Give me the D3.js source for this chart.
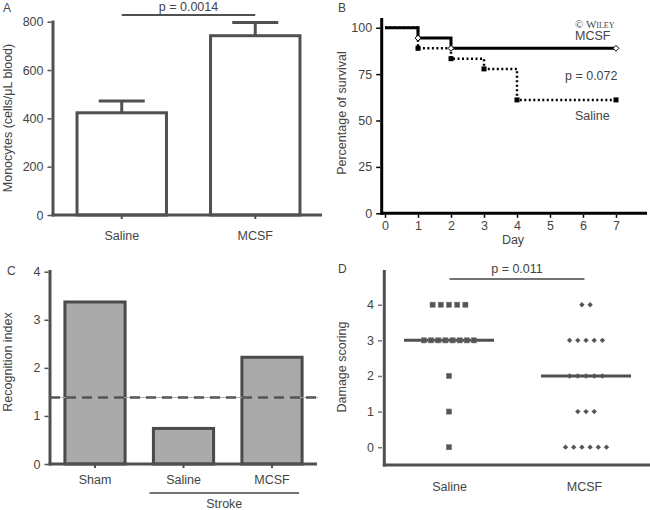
<!DOCTYPE html>
<html><head><meta charset="utf-8">
<script src="https://cdn.jsdelivr.net/npm/d3@7"></script>
<style>
body{margin:0;background:#fff;}
text{font-family:"Liberation Sans",Arial,sans-serif;font-size:12.5px;fill:#444;}
</style></head>
<body><svg id="c" width="650" height="510"></svg>
<script>
// ---------- DATA ----------
// Panel A
const aCategories = ["Saline", "MCSF"];
const aMeans = [423, 742];
const aErrors = [49, 55];
const aTicks = [0, 200, 400, 600, 800];
const aPText = "p = 0.0014";
// Panel B (survival, Kaplan-Meier)
const bDaysMCSF = [0, 1, 2, 7];
const bSurvMCSF = [100, 94.4, 88.9, 88.9];
const bMarkDaysMCSF = [1, 2, 7];
const bDaysSaline = [0, 1, 2, 3, 4, 7];
const bSurvSaline = [100, 88.9, 83.3, 77.8, 61.1, 61.1];
const bMarkDaysSaline = [1, 2, 3, 4, 7];
const bXTicks = [0, 1, 2, 3, 4, 5, 6, 7];
const bYTicks = [0, 25, 50, 75, 100];
// Panel C
const cCategories = ["Sham", "Saline", "MCSF"];
const cValues = [3.37, 0.74, 2.22];
const cThreshold = 1.385;
const cTicks = [0, 1, 2, 3, 4];
// Panel D
const dCategories = ["Saline", "MCSF"];
const dSalineScores = [4,4,4,4,4, 3,3,3,3,3,3,3,3, 2, 1, 0];
const dMCSFScores = [4,4, 3,3,3,3,3, 2,2,2,2,2, 1,1,1, 0,0,0,0,0,0];
const dMedians = [3, 2];
const dTicks = [0, 1, 2, 3, 4];
const dPText = "p = 0.011";

// ---------- DRAW ----------
const svg = d3.select("#c");
const GREY = "#505050";

function hline(g, x1, x2, y, col, w) {
  g.append("line").attr("x1", x1).attr("x2", x2).attr("y1", y).attr("y2", y)
    .attr("stroke", col).attr("stroke-width", w);
}
function vline(g, x, y1, y2, col, w) {
  g.append("line").attr("x1", x).attr("x2", x).attr("y1", y1).attr("y2", y2)
    .attr("stroke", col).attr("stroke-width", w);
}
function yAxis(x, scale, ticks, col, fmt) {
  const g = svg.append("g").attr("transform", `translate(${x},0)`)
    .call(d3.axisLeft(scale).tickValues(ticks).tickSize(4).tickPadding(4).tickFormat(fmt || d3.format("d")));
  g.select(".domain").remove();
  g.selectAll(".tick line").attr("stroke", col).attr("stroke-width", 1.5);
  g.selectAll(".tick text").style("font-size", "12.5px").attr("fill", "#444").style("font-family", "Liberation Sans, Arial, sans-serif");
  return g;
}
function rotTitle(x, y, txt) {
  svg.append("text").attr("transform", `translate(${x},${y}) rotate(-90)`)
    .attr("text-anchor", "middle").text(txt);
}
function label(x, y, txt) {
  svg.append("text").attr("x", x).attr("y", y).style("font-size", "12px").attr("fill", "#555").text(txt);
}

// ===== Panel A =====
{
  const y = d3.scaleLinear().domain([0, 800]).range([215, 21.7]);
  const x = d3.scaleBand().domain(aCategories).range([55, 322]).padding(0);
  const bw = x.bandwidth() * 0.67;
  const g = svg.append("g");
  aCategories.forEach((c, i) => {
    const cx = x(c) + x.bandwidth() / 2;
    vline(g, cx, y(aMeans[i]), y(aMeans[i] + aErrors[i]), GREY, 3);
    hline(g, cx - 23, cx + 23, y(aMeans[i] + aErrors[i]), GREY, 3);
    g.append("rect").attr("x", cx - bw / 2).attr("y", y(aMeans[i]))
      .attr("width", bw).attr("height", y(0) - y(aMeans[i]))
      .attr("fill", "#fff").attr("stroke", GREY).attr("stroke-width", 3);
    vline(g, cx, y(0), y(0) + 4, GREY, 2);
    svg.append("text").attr("x", cx).attr("y", 240).attr("text-anchor", "middle").text(c);
  });
  vline(g, 53, 20.5, 216.5, GREY, 3);
  hline(g, 51.5, 322, 215, GREY, 3);
  yAxis(51.5, y, aTicks, GREY);
  const x1 = x(aCategories[0]) + x.bandwidth() / 2, x2 = x(aCategories[1]) + x.bandwidth() / 2;
  hline(g, x1, x2, 15, GREY, 2);
  svg.append("text").attr("x", (x1 + x2) / 2).attr("y", 10.5).attr("text-anchor", "middle").text(aPText);
  rotTitle(12, 118, "Monocytes (cells/\u03BCL blood)");
  label(3, 12, "A");
}

// ===== Panel B =====
{
  const x = d3.scaleLinear().domain([0, 7]).range([385, 616]);
  const y = d3.scaleLinear().domain([0, 100]).range([213.3, 27.7]);
  const g = svg.append("g");
  vline(g, 381.7, 18, 214.8, "#000", 3);
  hline(g, 380.2, 647, 213.3, "#000", 3);
  yAxis(380.2, y, bYTicks, "#000");
  const gx = svg.append("g").attr("transform", "translate(0,214.8)")
    .call(d3.axisBottom(x).tickValues(bXTicks).tickSize(3).tickPadding(3).tickFormat(d3.format("d")));
  gx.select(".domain").remove();
  gx.selectAll(".tick line").attr("stroke", "#000").attr("stroke-width", 1.5);
  gx.selectAll(".tick text").style("font-size", "12.5px").attr("fill", "#444");
  svg.append("text").attr("x", 513).attr("y", 244).attr("text-anchor", "middle").text("Day");

  const line = d3.line().x(d => x(d[0])).y(d => y(d[1])).curve(d3.curveStepAfter);
  const sal = bDaysSaline.map((d, i) => [d, bSurvSaline[i]]);
  const mc = bDaysMCSF.map((d, i) => [d, bSurvMCSF[i]]);
  g.append("path").attr("d", line(sal)).attr("fill", "none").attr("stroke", "#000")
    .attr("stroke-width", 2.5).attr("stroke-dasharray", "2,2.5");
  g.append("path").attr("d", line(mc)).attr("fill", "none").attr("stroke", "#000")
    .attr("stroke-width", 3);
  bMarkDaysSaline.forEach(d => {
    const v = bSurvSaline[bDaysSaline.indexOf(d)];
    g.append("rect").attr("x", x(d) - 2.5).attr("y", y(v) - 2.5).attr("width", 5).attr("height", 5).attr("fill", "#000");
  });
  bMarkDaysMCSF.forEach(d => {
    const v = bSurvMCSF[bDaysMCSF.indexOf(d)];
    g.append("path").attr("d", d3.symbol(d3.symbolDiamond2, 22)())
      .attr("transform", `translate(${x(d)},${y(v)})`)
      .attr("fill", "#fff").attr("stroke", "#000").attr("stroke-width", 1);
  });
  svg.append("text").attr("x", 575).attr("y", 28).style("font-family", "Liberation Serif, serif")
    .style("font-size", "11px").style("font-variant", "small-caps").attr("fill", "#8a8a8a").text("\u00A9 Wiley");
  svg.append("text").attr("x", 575).attr("y", 40).text("MCSF");
  svg.append("text").attr("x", 565).attr("y", 80).text("p = 0.072");
  svg.append("text").attr("x", 575).attr("y", 120).text("Saline");
  rotTitle(346, 113, "Percentage of survival");
  label(338, 12, "B");
}

// ===== Panel C =====
{
  const y = d3.scaleLinear().domain([0, 4]).range([464, 271.7]);
  const x = d3.scaleBand().domain(cCategories).range([50.75, 316.25]).padding(0);
  const bw = x.bandwidth() * 0.68;
  const g = svg.append("g");
  cCategories.forEach((c, i) => {
    const cx = x(c) + x.bandwidth() / 2;
    g.append("rect").attr("x", cx - bw / 2).attr("y", y(cValues[i]))
      .attr("width", bw).attr("height", y(0) - y(cValues[i]))
      .attr("fill", "#aaaaaa").attr("stroke", "#4a4a4a").attr("stroke-width", 3);
    vline(g, cx, y(0), y(0) + 4, GREY, 2);
    svg.append("text").attr("x", cx).attr("y", 484).attr("text-anchor", "middle").text(c);
  });
  vline(g, 50, 270, 465.5, GREY, 3);
  hline(g, 48.5, 317, 464, GREY, 3);
  yAxis(48.5, y, cTicks, GREY);
  hline(g, 50, 318, y(cThreshold), "#aaa", 1);
  g.append("line").attr("x1", 50).attr("x2", 318).attr("y1", y(cThreshold)).attr("y2", y(cThreshold))
    .attr("stroke", "#555").attr("stroke-width", 2.5).attr("stroke-dasharray", "10,6");
  const sx1 = x("Saline") + x.bandwidth() / 2 - 34, sx2 = x("MCSF") + x.bandwidth() / 2 + 27;
  hline(g, sx1, sx2, 493, "#444", 1.5);
  svg.append("text").attr("x", (sx1 + sx2) / 2).attr("y", 508).attr("text-anchor", "middle").text("Stroke");
  rotTitle(12, 362, "Recognition index");
  label(7, 275, "C");
}

// ===== Panel D =====
{
  const y = d3.scaleLinear().domain([-0.5, 4.9]).range([465, 272.7]);
  const x = d3.scaleBand().domain(dCategories).range([382, 652]).padding(0);
  const g = svg.append("g");
  vline(g, 384.3, 270, 466.5, GREY, 3);
  hline(g, 382.8, 650, 465, GREY, 3);
  yAxis(382, y, dTicks, "#777");
  const groups = [dSalineScores, dMCSFScores];
  dCategories.forEach((c, gi) => {
    const cx = x(c) + x.bandwidth() / 2 + (gi === 1 ? 1.5 : -0.5);
    svg.append("text").attr("x", x(c) + x.bandwidth() / 2).attr("y", 491).attr("text-anchor", "middle").text(c);
    const scores = groups[gi];
    const levels = d3.groups(scores, d => d);
    hline(g, cx - 45, cx + 45, y(dMedians[gi]), GREY, 3);
    levels.forEach(([lv, arr]) => {
      const n = arr.length;
      const sp = n > 1 ? Math.min(8.2, 50 / (n - 1)) : 0;
      arr.forEach((_, k) => {
        const px = cx + (k - (n - 1) / 2) * sp;
        if (gi === 0) {
          g.append("rect").attr("x", px - 2.6).attr("y", y(lv) - 2.6).attr("width", 5.2).attr("height", 5.2)
            .attr("fill", "#555").attr("stroke", "#777").attr("stroke-width", 0.5);
        } else {
          g.append("path").attr("d", d3.symbol(d3.symbolDiamond2, 18)())
            .attr("transform", `translate(${px},${y(lv)})`).attr("fill", "#555");
        }
      });
    });
  });
  const p1 = x(dCategories[0]) + x.bandwidth() / 2, p2 = x(dCategories[1]) + x.bandwidth() / 2;
  hline(g, p1, p2, 279, "#444", 1.5);
  svg.append("text").attr("x", (p1 + p2) / 2).attr("y", 273).attr("text-anchor", "middle").text(dPText);
  rotTitle(346, 367, "Damage scoring");
  label(338, 273, "D");
}
</script></body></html>
